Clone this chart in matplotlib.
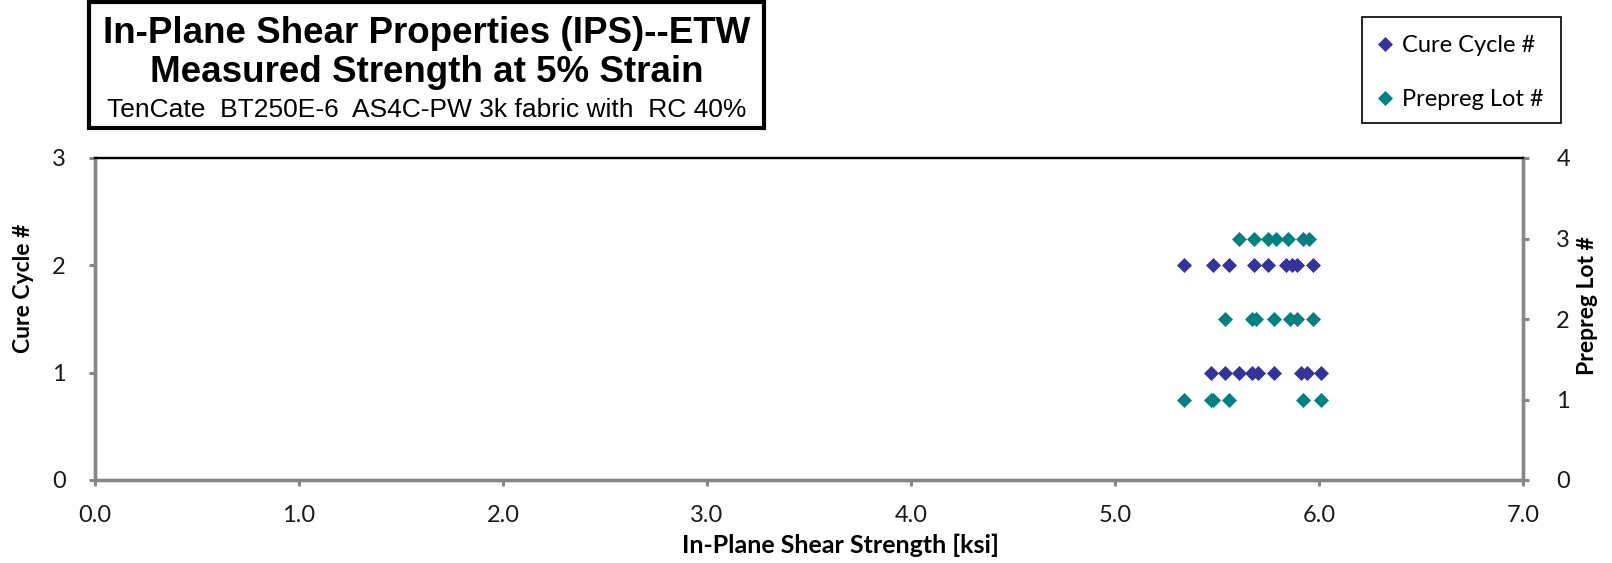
import matplotlib
matplotlib.use("Agg")
import matplotlib.pyplot as plt
from matplotlib.patches import Rectangle

# data
cure_x = [5.34, 5.48, 5.56, 5.68, 5.75, 5.84, 5.87, 5.89, 5.97,
          5.47, 5.54, 5.61, 5.67, 5.70, 5.78, 5.91, 5.94, 6.01]
cure_y = [2, 2, 2, 2, 2, 2, 2, 2, 2,
          1, 1, 1, 1, 1, 1, 1, 1, 1]
lot_x = [5.61, 5.68, 5.75, 5.79, 5.85, 5.92, 5.95,
         5.54, 5.67, 5.69, 5.78, 5.86, 5.89, 5.97,
         5.34, 5.47, 5.48, 5.56, 5.92, 6.01]
lot_y = [3, 3, 3, 3, 3, 3, 3,
         2, 2, 2, 2, 2, 2, 2,
         1, 1, 1, 1, 1, 1]
x_ticks = [0, 1, 2, 3, 4, 5, 6, 7]
left_ticks = [0, 1, 2, 3]
right_ticks = [0, 1, 2, 3, 4]

blue = "#333399"
teal = "#008080"
gray = "#878787"
font = ["Lato", "DejaVu Sans"]
narrow = ["Liberation Sans Narrow", "Liberation Sans", "DejaVu Sans"]

plt.rcParams["font.family"] = font

fig = plt.figure(figsize=(16.12, 5.63), dpi=100)
ax = fig.add_axes([95 / 1612, 1 - 480 / 563, 1428 / 1612, 322 / 563])
ax2 = ax.twinx()

l1, = ax.plot(cure_x, cure_y, linestyle="none", marker="D", ms=7.5,
              color=blue, mec=blue, mew=0.5, label="Cure Cycle #")
l2, = ax2.plot(lot_x, lot_y, linestyle="none", marker="D", ms=7.5,
               color=teal, mec=teal, mew=0.5, label="Prepreg Lot #")

ax.set_xlim(0, 7)
ax.set_ylim(0, 3)
ax2.set_ylim(0, 4)
ax.set_xticks(x_ticks)
ax.set_xticklabels(["%.1f" % v for v in x_ticks])
ax.set_yticks(left_ticks)
ax2.set_yticks(right_ticks)

for a in (ax, ax2):
    for s in ("left", "right", "bottom"):
        a.spines[s].set_color(gray)
        a.spines[s].set_linewidth(2.4)
    a.spines["top"].set_color("black")
    a.spines["top"].set_linewidth(1.6)
    a.tick_params(direction="out", length=4, width=2.2, color=gray,
                  labelsize=17, labelcolor="#1a1a1a")
ax.tick_params(axis="x", pad=14)
ax.tick_params(axis="y", pad=17)
ax2.tick_params(axis="y", pad=20)

ax.set_xlabel("In-Plane Shear Strength [ksi]", fontsize=18, fontweight="bold")
ax.xaxis.set_label_coords(0.522, -0.168)
ax.set_ylabel("Cure Cycle #", fontsize=16.5, fontweight="bold")
ax.yaxis.set_label_coords(-0.043, 0.596)
ax2.set_ylabel("Prepreg Lot #", fontsize=16.5, fontweight="bold")
ax2.yaxis.set_label_coords(1.038, 0.54)

# title box
fig.patches.append(Rectangle((89 / 1612, 1 - 128 / 563), 675 / 1612, 126 / 563,
                             transform=fig.transFigure, fill=False,
                             edgecolor="black", linewidth=3))
cx = (89 + 764) / 2 / 1612
fig.text(cx, 1 - 43 / 563, "In-Plane Shear Properties (IPS)--ETW", ha="center",
         va="baseline", fontsize=26.5, fontweight="bold", family=narrow)
fig.text(cx, 1 - 82 / 563, "Measured Strength at 5% Strain", ha="center",
         va="baseline", fontsize=26.5, fontweight="bold", family=narrow)
fig.text(cx, 1 - 117 / 563, "TenCate  BT250E-6  AS4C-PW 3k fabric with  RC 40%",
         ha="center", va="baseline", fontsize=19, family=narrow)

# legend box
fig.patches.append(Rectangle((1362 / 1612, 1 - 123 / 563), 199 / 1612, 106 / 563,
                             transform=fig.transFigure, fill=False,
                             edgecolor="black", linewidth=1.2))
leg = fig.legend([l1, l2], ["Cure Cycle #", "Prepreg Lot #"],
                 loc="upper left", bbox_to_anchor=(1376 / 1612, 1 - 35 / 563),
                 fontsize=17, frameon=False, handlelength=0.8,
                 handletextpad=0.3, labelspacing=1.4, borderpad=0, borderaxespad=0)

fig.savefig("out.png", dpi=100)
